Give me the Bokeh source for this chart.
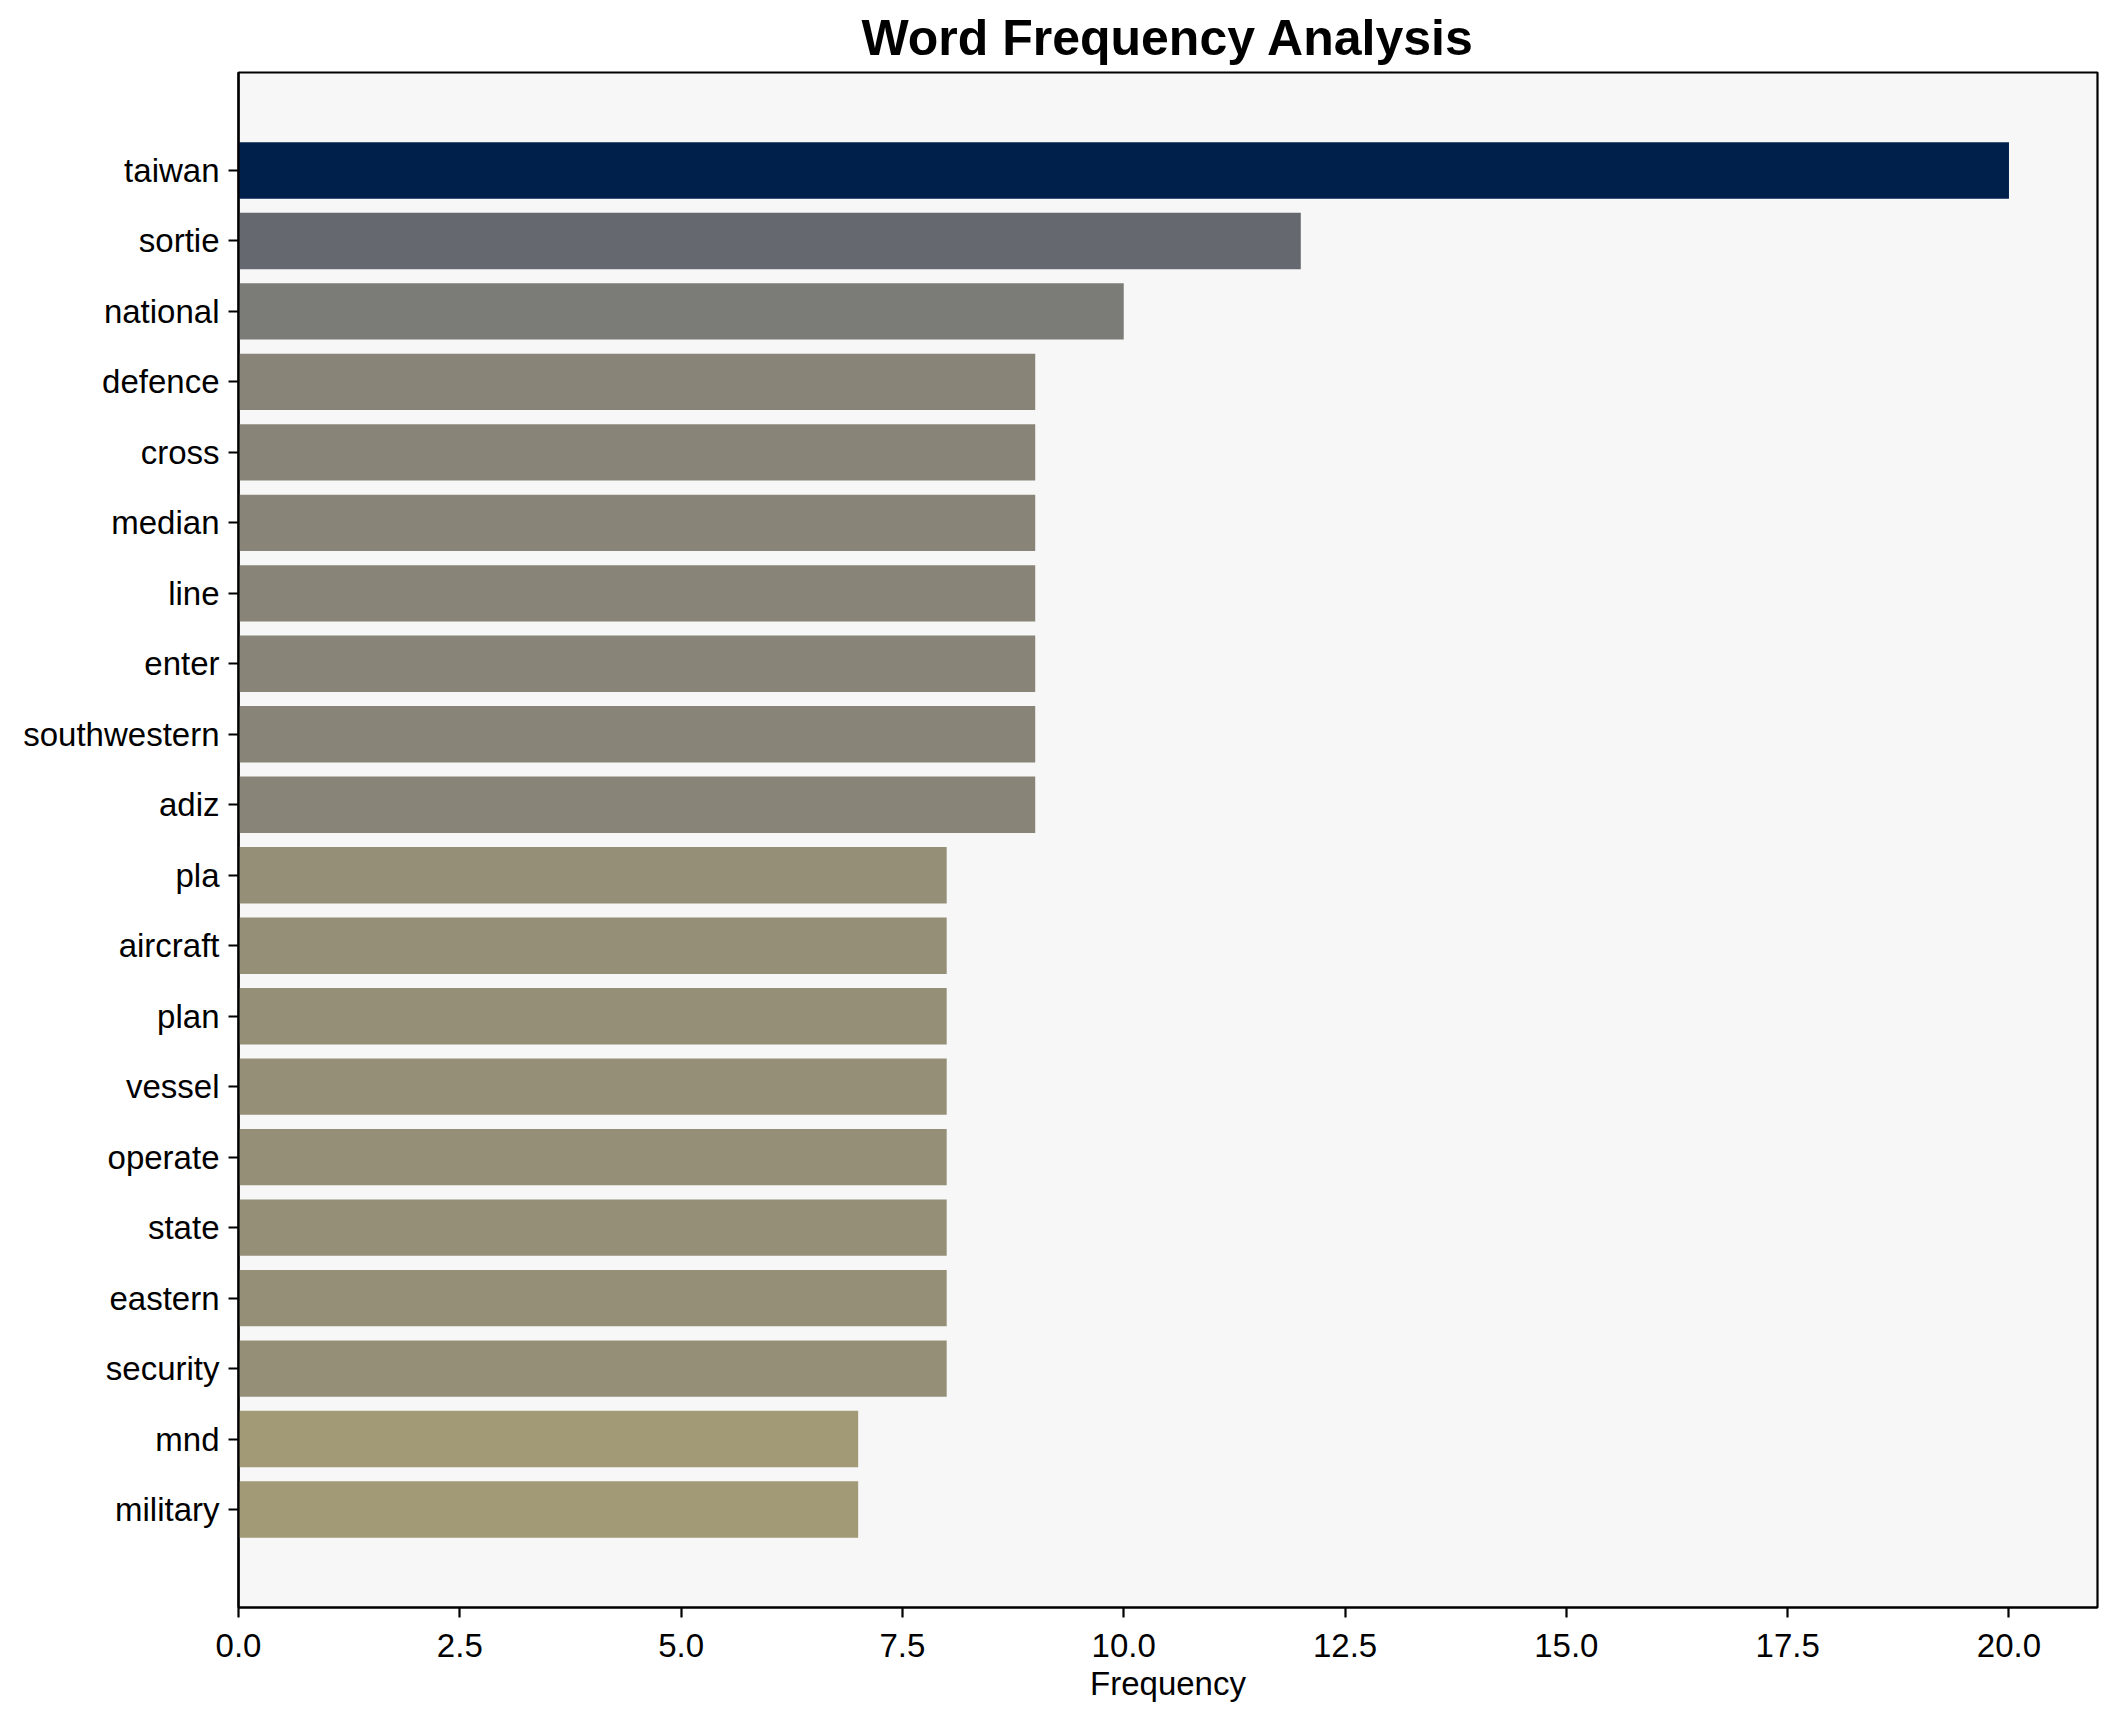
from bokeh.plotting import figure
from bokeh.models import (FactorRange, Range1d, FixedTicker, PrintfTickFormatter,
                          LinearColorMapper, ColumnDataSource)
from bokeh.palettes import Cividis256
from bokeh.embed import file_html
from bokeh.resources import INLINE

words = ["taiwan", "sortie", "national", "defence", "cross", "median", "line",
         "enter", "southwestern", "adiz", "pla", "aircraft", "plan", "vessel",
         "operate", "state", "eastern", "security", "mnd", "military"]
counts = [20, 12, 10, 9, 9, 9, 9, 9, 9, 9, 8, 8, 8, 8, 8, 8, 8, 8, 7, 7]
xticks = [0.0, 2.5, 5.0, 7.5, 10.0, 12.5, 15.0, 17.5, 20.0]

src = ColumnDataSource(dict(word=words, count=counts))
mapper = LinearColorMapper(palette=list(reversed(Cividis256)), low=0, high=max(counts))

FONT = "Liberation Sans"

p = figure(
    width=2101, height=1706,
    y_range=FactorRange(factors=list(reversed(words)), range_padding=0.089,
                        range_padding_units="percent"),
    x_range=Range1d(0, 21),
    output_backend="svg", toolbar_location=None,
    title="Word Frequency Analysis",
    min_border_left=238, min_border_right=4, min_border_top=72, min_border_bottom=99,
)

p.hbar(y="word", left=0, right="count", height=0.8, source=src,
       fill_color={"field": "count", "transform": mapper}, line_color=None)

p.background_fill_color = "#f7f7f7"
p.border_fill_color = "white"
p.outline_line_color = "black"
p.outline_line_width = 2.2
p.xgrid.visible = False
p.ygrid.visible = False

p.title.align = "center"
p.title.text_font = FONT
p.title.text_font_size = "50px"
p.title.text_font_style = "bold"
p.title.text_color = "black"
p.title.standoff = 13

for ax in (p.xaxis[0], p.yaxis[0]):
    ax.axis_line_color = "black"
    ax.axis_line_width = 2.2
    ax.major_tick_line_color = "black"
    ax.major_tick_line_width = 2.2
    ax.major_tick_out = 10
    ax.major_tick_in = 0
    ax.minor_tick_line_color = None
    ax.major_label_text_font = FONT
    ax.major_label_text_font_size = "33px"
    ax.major_label_text_color = "black"

p.yaxis.major_label_standoff = 9
p.xaxis.major_label_standoff = 16
p.xaxis.ticker = FixedTicker(ticks=xticks)
p.xaxis.formatter = PrintfTickFormatter(format="%.1f")
p.xaxis.axis_label = "Frequency"
p.xaxis.axis_label_text_font = FONT
p.xaxis.axis_label_text_font_size = "33px"
p.xaxis.axis_label_text_font_style = "normal"
p.xaxis.axis_label_text_color = "black"
p.xaxis.axis_label_standoff = 5

open("out.html", "w").write(file_html(p, INLINE))
